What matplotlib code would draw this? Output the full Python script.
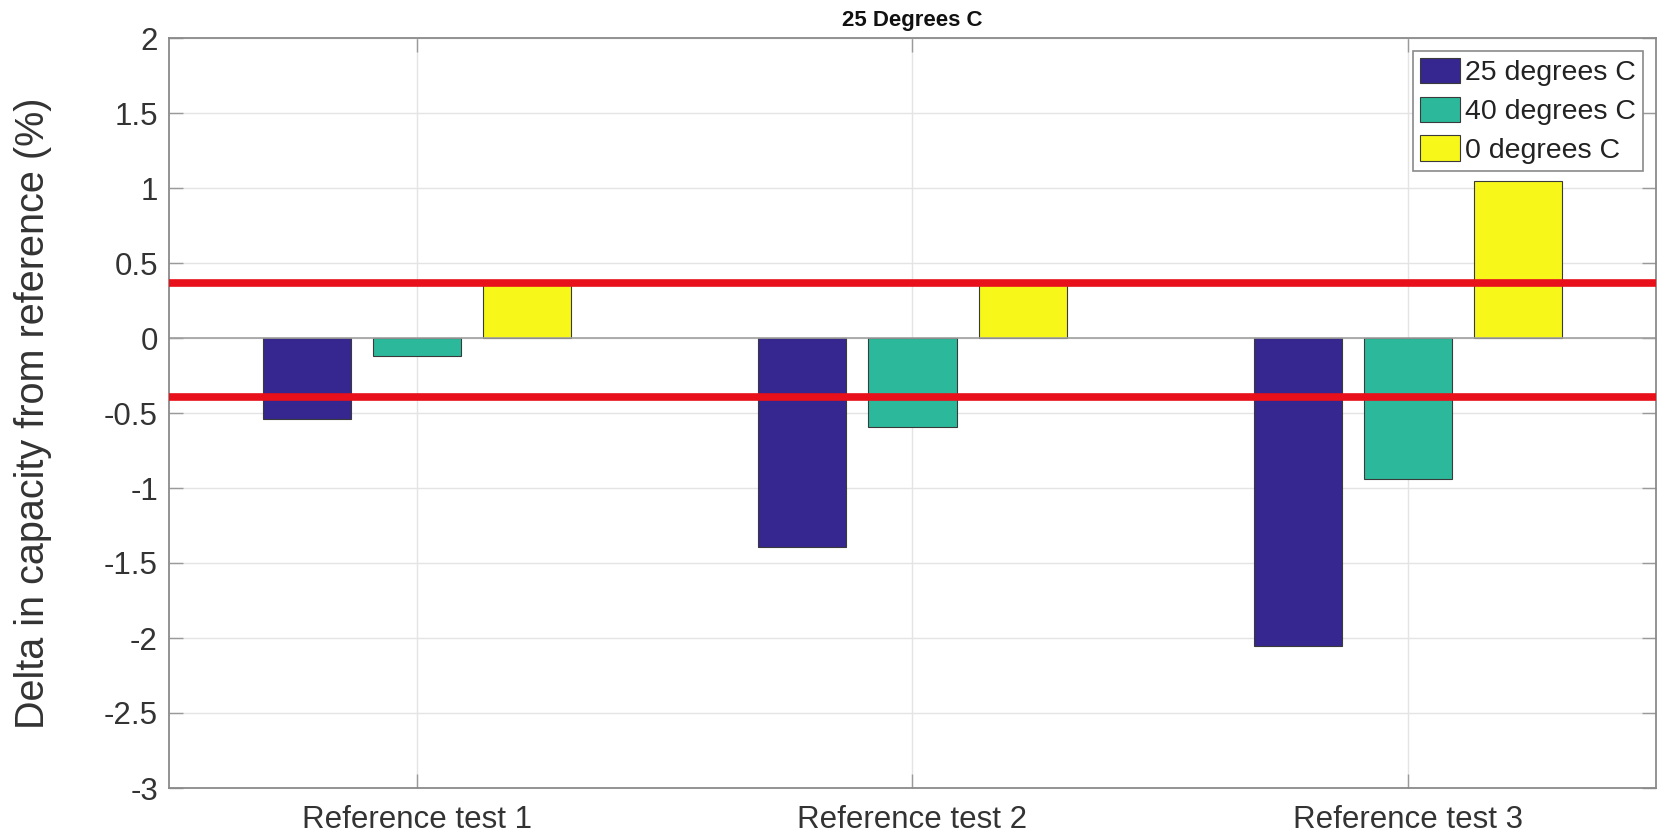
import numpy as np
import matplotlib
matplotlib.use("Agg")
import matplotlib.pyplot as plt

plt.rcParams['font.family'] = ['Liberation Sans', 'DejaVu Sans']
plt.rcParams['axes.unicode_minus'] = False

categories = ["Reference test 1", "Reference test 2", "Reference test 3"]
series_names = ["25 degrees C", "40 degrees C", "0 degrees C"]
vals_25 = [-0.54, -1.39, -2.05]
vals_40 = [-0.12, -0.59, -0.94]
vals_0 = [0.36, 0.36, 1.05]
limit_upper = 0.37
limit_lower = -0.39
yticks = [2, 1.5, 1, 0.5, 0, -0.5, -1, -1.5, -2, -2.5, -3]
ytick_labels = ["2", "1.5", "1", "0.5", "0", "-0.5", "-1", "-1.5", "-2", "-2.5", "-3"]
title = "25 Degrees C"
ylabel = "Delta in capacity from reference (%)"

colors = ["#35278f", "#2cb99b", "#f7f71a"]

W, H = 1658, 839
fig = plt.figure(figsize=(W / 100, H / 100), dpi=100)
ax = fig.add_axes([169 / W, 1 - 788 / H, (1656 - 169) / W, (788 - 38) / H])

x = np.arange(1, len(categories) + 1)
nb = 3
groupwidth = min(0.8, nb / (nb + 1.5))
bw = 0.8 * groupwidth / nb
offsets = [(i - (nb - 1) / 2) * groupwidth / nb for i in range(nb)]
for vals, name, c, off in zip([vals_25, vals_40, vals_0], series_names, colors, offsets):
    ax.bar(x + off, vals, width=bw, color=c, edgecolor="#3a3a3a", linewidth=0.8,
           label=name, zorder=2)

ax.axhline(0, color="#a0a0a0", linewidth=1.2, zorder=2.5)
ax.axhline(limit_upper, color="#e8101a", linewidth=5.5, zorder=3)
ax.axhline(limit_lower, color="#e8101a", linewidth=5.5, zorder=3)

ax.set_xlim(0.5, 3.5)
ax.set_ylim(-3, 2)
ax.set_yticks(yticks)
ax.set_yticklabels(ytick_labels)
ax.set_xticks(x)
ax.set_xticklabels(categories)

ax.grid(True, color="#e4e4e4", linewidth=1.0, zorder=0)
ax.set_axisbelow(True)
for s in ax.spines.values():
    s.set_color("#8a8a8a")
    s.set_linewidth(1.3)
ax.tick_params(axis="both", direction="in", length=10, width=1.0, color="#9a9a9a",
               labelsize=22.5, labelcolor="#333333", top=True, right=True)
ax.tick_params(axis="y", pad=8)
ax.tick_params(axis="x", pad=12)

ax.set_title(title, fontsize=16, fontweight="bold", pad=9, color="#111111")
ax.set_ylabel(ylabel, fontsize=28.5, color="#333333", va="center")
ax.yaxis.set_label_coords((33 - 169) / (1656 - 169), 0.5)

leg = ax.legend(loc="upper right", fontsize=20.5, frameon=True, fancybox=False,
                edgecolor="#8a8a8a", framealpha=1, handlelength=1.4, handleheight=1.0,
                handletextpad=0.17, labelspacing=0.36, borderpad=0.25, borderaxespad=0.45)
leg.get_frame().set_linewidth(1.2)
for t in leg.get_texts():
    t.set_color("#222222")

fig.savefig("out.png", dpi=100, facecolor="white")
